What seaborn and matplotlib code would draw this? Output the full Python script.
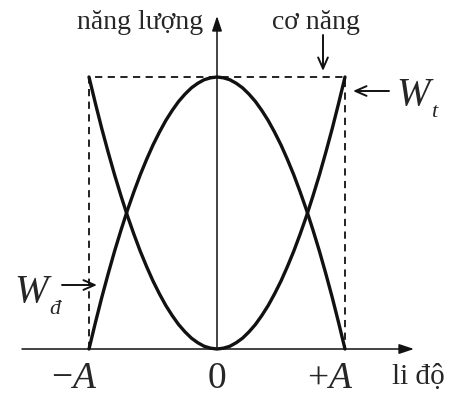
import matplotlib
matplotlib.use("Agg")
import matplotlib.pyplot as plt
import seaborn as sns
import pandas as pd

# Displacement (in units of the amplitude A) and the two energies (in units of the total energy)
li_do = [-1.00, -0.95, -0.90, -0.85, -0.80, -0.75, -0.70, -0.65, -0.60, -0.55, -0.50,
         -0.45, -0.40, -0.35, -0.30, -0.25, -0.20, -0.15, -0.10, -0.05, 0.00,
         0.05, 0.10, 0.15, 0.20, 0.25, 0.30, 0.35, 0.40, 0.45, 0.50,
         0.55, 0.60, 0.65, 0.70, 0.75, 0.80, 0.85, 0.90, 0.95, 1.00]
the_nang = [1.000, 0.903, 0.810, 0.723, 0.640, 0.563, 0.490, 0.423, 0.360, 0.303, 0.250,
            0.203, 0.160, 0.123, 0.090, 0.063, 0.040, 0.023, 0.010, 0.003, 0.000,
            0.003, 0.010, 0.023, 0.040, 0.063, 0.090, 0.123, 0.160, 0.203, 0.250,
            0.303, 0.360, 0.423, 0.490, 0.563, 0.640, 0.723, 0.810, 0.903, 1.000]
dong_nang = [0.000, 0.097, 0.190, 0.277, 0.360, 0.437, 0.510, 0.577, 0.640, 0.697, 0.750,
             0.797, 0.840, 0.877, 0.910, 0.937, 0.960, 0.977, 0.990, 0.997, 1.000,
             0.997, 0.990, 0.977, 0.960, 0.937, 0.910, 0.877, 0.840, 0.797, 0.750,
             0.697, 0.640, 0.577, 0.510, 0.437, 0.360, 0.277, 0.190, 0.097, 0.000]
co_nang = 1.0
bien_do = 1.0
tick_pos = [-1.0, 0.0, 1.0]
tick_labels = [r"$-A$", r"$0$", r"$+A$"]

sns.set_style("white")
plt.rcParams["font.family"] = ["Liberation Serif", "DejaVu Serif"]
plt.rcParams["mathtext.fontset"] = "custom"
plt.rcParams["mathtext.rm"] = "Liberation Serif"
plt.rcParams["mathtext.it"] = "Liberation Serif:italic"

W, H = 451, 396
fig = plt.figure(figsize=(W / 100, H / 100), dpi=100)
ax = fig.add_axes([0, 0, 1, 1])

# pixel layout of the drawing: x=0 at 217 px, A = 128 px; y=0 at 349 px, E = 272 px
x0, sx = 217, 128
y0, sy = 349, 272
ax.set_xlim((0 - x0) / sx, (W - x0) / sx)
ax.set_ylim(-(H - y0) / sy, y0 / sy)
ax.axis("off")


def px(x, y):
    """figure pixel (from top-left) -> data coordinates"""
    return (x - x0) / sx, (y0 - y) / sy


df = pd.DataFrame({"x": li_do, "Wt": the_nang, "Wd": dong_nang})
sns.lineplot(data=df, x="x", y="Wt", ax=ax, color="#111111", lw=2.4, sort=False)
sns.lineplot(data=df, x="x", y="Wd", ax=ax, color="#111111", lw=2.4, sort=False)

# dashed box of the total energy
ax.plot([-bien_do, -bien_do, bien_do, bien_do], [0, co_nang, co_nang, 0],
        color="#111111", lw=1.3, ls=(0, (4, 3)), zorder=1)

# axes with arrow heads
arrow_kw = dict(arrowstyle="-|>,head_length=0.9,head_width=0.3", color="#111111", lw=1.1,
                shrinkA=0, shrinkB=0)
ax.annotate("", xy=px(414, y0), xytext=px(22, y0), arrowprops=arrow_kw)
ax.annotate("", xy=px(x0, 16), xytext=px(x0, y0), arrowprops=arrow_kw)

# tick labels on the displacement axis
for xp, lab in zip(tick_pos, tick_labels):
    if xp == 0:
        ax.text(xp, px(0, 388)[1], lab, ha="center", va="baseline", fontsize=27)
    else:
        ax.text(xp + 8 / sx, px(0, 388)[1], lab, ha="right", va="baseline", fontsize=27)

ax.text(*px(392, 384), "li độ", ha="left", va="baseline", fontsize=21)
ax.text(*px(203, 29), "năng lượng", ha="right", va="baseline", fontsize=20)
ax.text(*px(316, 29), "cơ năng", ha="center", va="baseline", fontsize=20)

open_kw = dict(arrowstyle="->,head_length=0.8,head_width=0.35", color="#111111", lw=1.4,
               shrinkA=0, shrinkB=0)
ax.annotate("", xy=px(323, 71), xytext=px(323, 35), arrowprops=open_kw)
ax.annotate("", xy=px(353, 91), xytext=px(389, 91), arrowprops=open_kw)
ax.annotate("", xy=px(97, 285), xytext=px(62, 285), arrowprops=open_kw)

ax.text(*px(396, 105), "W", style="italic", ha="left", va="baseline", fontsize=29)
ax.text(*px(431, 117), "t", style="italic", ha="left", va="baseline", fontsize=16)
ax.text(*px(14, 302), "W", style="italic", ha="left", va="baseline", fontsize=29)
ax.text(*px(49, 314), "đ", style="italic", ha="left", va="baseline", fontsize=16)

fig.savefig("out.png", dpi=100, facecolor="white")
